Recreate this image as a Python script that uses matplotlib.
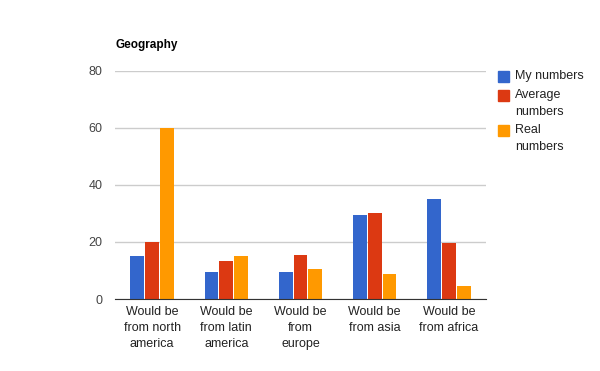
import matplotlib.pyplot as plt
import matplotlib.patches as mpatches
import numpy as np

plt.rcParams['font.family'] = ['Liberation Sans', 'DejaVu Sans']

categories = ["Would be\nfrom north\namerica", "Would be\nfrom latin\namerica",
              "Would be\nfrom\neurope", "Would be\nfrom asia", "Would be\nfrom africa"]
my_numbers = [15, 9.5, 9.5, 29.5, 35]
average_numbers = [20, 13.3, 15.4, 30.2, 19.6]
real_numbers = [60, 15, 10.5, 8.8, 4.6]
series = ["My numbers", "Average\nnumbers", "Real\nnumbers"]
colors = ["#3366cc", "#dc3912", "#ff9900"]

W, H = 600, 371
fig = plt.figure(figsize=(6, 3.71), dpi=100)
ax = fig.add_axes([115 / W, 1 - 299 / H, 371 / W, 228 / H])

x = np.arange(len(categories))
w = 0.2
for i, (vals, col) in enumerate(zip([my_numbers, average_numbers, real_numbers], colors)):
    ax.bar(x + (i - 1) * w, vals, width=w - 0.015, color=col, zorder=3)

ax.set_xlim(-0.5, len(categories) - 0.5)
ax.set_ylim(0, 80)
ax.set_yticks([0, 20, 40, 60, 80])
ax.set_xticks(x)
ax.set_xticklabels(categories, fontsize=9, color="#222222", linespacing=1.45)
ax.tick_params(axis='y', labelsize=9, labelcolor="#444444", length=0, pad=9)
ax.tick_params(axis='x', length=0, pad=5)
ax.yaxis.grid(True, color="#cccccc", linewidth=1, zorder=0)
for s in ["top", "right", "left"]:
    ax.spines[s].set_visible(False)
ax.spines["bottom"].set_color("#333333")
ax.spines["bottom"].set_zorder(4)

fig.text(115 / W, 1 - 45 / H, "Geography", fontsize=8.5, fontweight="bold", va="center")

# legend drawn by hand: square aligned with first text line
tops = [71, 90, 125]
for top, lab, col in zip(tops, series, colors):
    fig.patches.append(mpatches.Rectangle((498 / W, 1 - (top + 11) / H), 11 / W, 11 / H,
                                          transform=fig.transFigure, color=col))
    fig.text(515 / W, 1 - (top - 1) / H, lab, fontsize=9, color="#222222", va="top",
             linespacing=1.55)

fig.savefig("out.png", dpi=100)
